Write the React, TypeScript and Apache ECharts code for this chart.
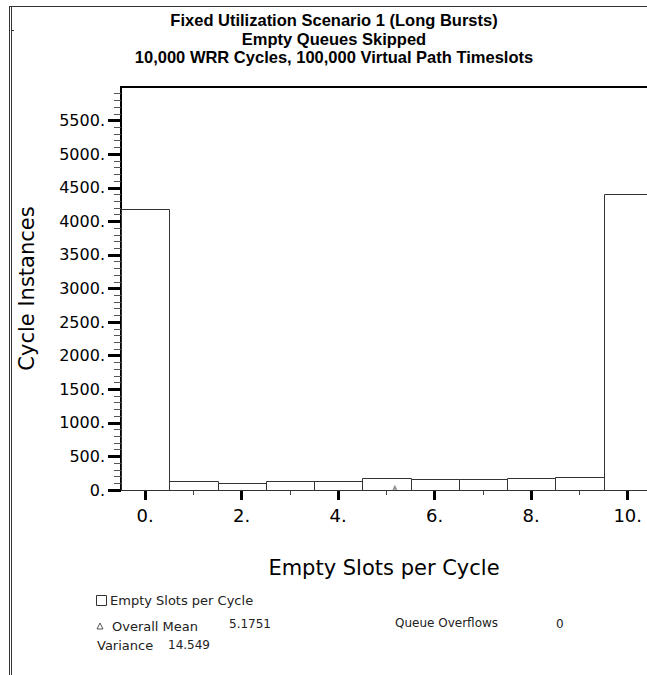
import React, { useEffect, useRef } from "react";
import * as echarts from "echarts";

const titleLines = [
  "Fixed Utilization Scenario 1 (Long Bursts)",
  "Empty Queues Skipped",
  "10,000 WRR Cycles, 100,000 Virtual Path Timeslots",
];
const bins = [0, 1, 2, 3, 4, 5, 6, 7, 8, 9, 10];
const counts = [4180, 130, 100, 140, 140, 185, 165, 165, 185, 200, 4400];
const yTicks = [0, 500, 1000, 1500, 2000, 2500, 3000, 3500, 4000, 4500, 5000, 5500];
const xTicks = [0, 2, 4, 6, 8, 10];
const xMinorTicks = [1, 3, 5, 7, 9];
const seriesName = "Empty Slots per Cycle";
const overallMean = 5.1751;
const variance = 14.549;
const queueOverflows = 0;

const FONT = "'Liberation Sans', Arial, Helvetica, sans-serif";
const WIDE = "'DejaVu Sans', Verdana, sans-serif";

export default function App() {
  const ref = useRef<HTMLDivElement>(null);
  useEffect(() => {
    if (!ref.current) return;
    const chart = echarts.init(ref.current, null, { renderer: "svg" });
    const barData = bins.map((b, i) => [b, counts[i]]);
    const option: any = {
      animation: false,
      backgroundColor: "#fff",
      textStyle: { fontFamily: FONT },
      grid: {
        left: 121,
        top: 87,
        right: 0,
        bottom: 185,
        containLabel: false,
        outerBoundsMode: "none",
      },
      xAxis: [
        {
          type: "value",
          min: -0.5,
          max: 10.4,
          position: "bottom",
          axisLine: { show: true, onZero: false, lineStyle: { color: "#000", width: 2 } },
          axisTick: { show: true, customValues: xTicks, length: 10, lineStyle: { color: "#000", width: 3 } },
          axisLabel: {
            customValues: xTicks,
            formatter: (v: number) => v + ".",
            fontSize: 18,
            margin: 16,
            color: "#000",
            fontFamily: WIDE,
          },
          splitLine: { show: false },
          name: seriesName,
          nameLocation: "middle",
          nameGap: 67,
          nameTextStyle: { fontSize: 21, color: "#000", fontFamily: WIDE },
        },
        {
          type: "value",
          min: -0.5,
          max: 10.4,
          position: "bottom",
          axisLine: { show: false, onZero: false },
          axisTick: { show: true, customValues: xMinorTicks, length: 5, lineStyle: { color: "#444", width: 1 } },
          axisLabel: { show: false },
          splitLine: { show: false },
        },
      ],
      yAxis: {
        type: "value",
        min: 0,
        max: 6000,
        interval: 500,
        axisLine: { show: true, onZero: false, lineStyle: { color: "#000", width: 2 } },
        axisTick: { show: true, customValues: yTicks, length: 13, lineStyle: { color: "#000", width: 3 } },
        minorTick: { show: true, splitNumber: 5, length: 7, lineStyle: { color: "#555", width: 1 } },
        axisLabel: {
          customValues: yTicks,
          formatter: (v: number) => v + ".",
          fontSize: 16,
          margin: 16,
          color: "#000",
          fontFamily: WIDE,
        },
        splitLine: { show: false },
        minorSplitLine: { show: false },
        name: "Cycle Instances",
        nameLocation: "middle",
        nameGap: 84,
        nameTextStyle: { fontSize: 21, color: "#000", fontFamily: WIDE },
      },
      series: [
        {
          type: "custom",
          name: seriesName,
          xAxisIndex: 0,
          data: barData,
          renderItem: (params: any, api: any) => {
            const k = api.value(0);
            const v = api.value(1);
            const p0 = api.coord([k - 0.5, v]);
            const p1 = api.coord([k + 0.5, 0]);
            const x = Math.round(p0[0]) + 0.5;
            const y = Math.round(p0[1]) + 0.5;
            return {
              type: "rect",
              shape: { x, y, width: Math.round(p1[0]) - Math.round(p0[0]), height: Math.round(p1[1]) - Math.round(p0[1]) },
              style: { fill: "#fff", stroke: "#333", lineWidth: 1 },
            };
          },
        },
        {
          type: "scatter",
          name: "Overall Mean",
          xAxisIndex: 0,
          data: [[overallMean, 40]],
          symbol: "triangle",
          symbolSize: 5,
          itemStyle: { color: "#777" },
          z: 5,
        },
      ],
      graphic: [
        { type: "line", shape: { x1: 9.5, y1: 6, x2: 9.5, y2: 675 }, style: { stroke: "#333", lineWidth: 1 } },
        { type: "line", shape: { x1: 11.5, y1: 6, x2: 11.5, y2: 675 }, style: { stroke: "#333", lineWidth: 1 } },
        { type: "line", shape: { x1: 9, y1: 6.5, x2: 647, y2: 6.5 }, style: { stroke: "#333", lineWidth: 1 } },
        { type: "line", shape: { x1: 11, y1: 30.5, x2: 14, y2: 30.5 }, style: { stroke: "#333", lineWidth: 1 } },
        { type: "line", shape: { x1: 120, y1: 87, x2: 647, y2: 87 }, style: { stroke: "#000", lineWidth: 2 } },
        ...titleLines.map((t, i) => ({
          type: "text",
          x: 334,
          y: 20 + i * 18.5,
          style: {
            text: t,
            fontSize: 16.5,
            lineHeight: 17,
            fontWeight: "bold",
            fontFamily: FONT,
            fill: "#000",
            align: "center",
            verticalAlign: "middle",
          },
        })),
        { type: "rect", shape: { x: 96.5, y: 595.5, width: 10, height: 10 }, style: { fill: "#fff", stroke: "#333", lineWidth: 1 } },
        { type: "text", x: 110, y: 600, style: { text: seriesName, fontSize: 13, fontFamily: WIDE, fill: "#222", verticalAlign: "middle" } },
        { type: "polygon", shape: { points: [[100, 623], [97, 629], [103, 629]] }, style: { fill: "none", stroke: "#555", lineWidth: 1 } },
        { type: "text", x: 112, y: 626, style: { text: "Overall Mean", fontSize: 13, fontFamily: WIDE, fill: "#222", verticalAlign: "middle" } },
        { type: "text", x: 229, y: 624, style: { text: String(overallMean), fontSize: 12, fontFamily: WIDE, fill: "#222", verticalAlign: "middle" } },
        { type: "text", x: 395, y: 623, style: { text: "Queue Overflows", fontSize: 12, fontFamily: WIDE, fill: "#222", verticalAlign: "middle" } },
        { type: "text", x: 556, y: 624, style: { text: String(queueOverflows), fontSize: 12, fontFamily: WIDE, fill: "#222", verticalAlign: "middle" } },
        { type: "text", x: 97, y: 645, style: { text: "Variance", fontSize: 13, fontFamily: WIDE, fill: "#222", verticalAlign: "middle" } },
        { type: "text", x: 168, y: 645, style: { text: String(variance), fontSize: 12, fontFamily: WIDE, fill: "#222", verticalAlign: "middle" } },
      ],
    };
    chart.setOption(option);
    return () => chart.dispose();
  }, []);
  return (
    <div
      ref={ref}
      style={{ position: "absolute", left: 0, top: 0, width: 647, height: 675, background: "#fff" }}
    />
  );
}
